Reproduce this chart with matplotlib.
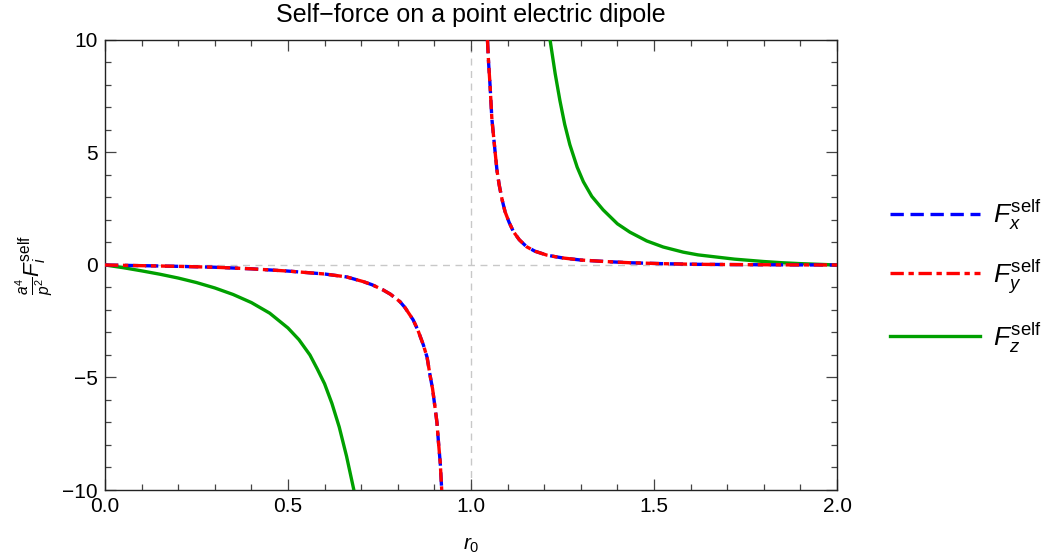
import matplotlib

matplotlib.use("Agg")

import matplotlib.pyplot as plt
from matplotlib.ticker import FormatStrFormatter, MultipleLocator

# sampled self-force components (r0, scaled force), two branches each side of r0 = 1
fx_inner_r = [0.0, 0.1, 0.2, 0.3, 0.4, 0.5, 0.6, 0.66, 0.706, 0.73, 0.76, 0.78,
              0.806, 0.82, 0.842, 0.855, 0.87, 0.88, 0.888, 0.895, 0.902, 0.907,
              0.911, 0.916, 0.92]
fx_inner_f = [0.0, -0.03, -0.06, -0.10, -0.17, -0.27, -0.40, -0.53, -0.74, -0.88,
              -1.11, -1.30, -1.63, -1.90, -2.44, -2.90, -3.56, -4.10, -4.89, -5.50,
              -6.37, -7.00, -7.85, -8.80, -10.0]
fx_outer_r = [1.045, 1.048, 1.052, 1.057, 1.066, 1.071, 1.077, 1.085, 1.093, 1.104,
              1.116, 1.132, 1.152, 1.175, 1.207, 1.23, 1.252, 1.30, 1.371, 1.434,
              1.52, 1.617, 1.75, 1.88, 2.0]
fx_outer_f = [10.0, 9.0, 8.0, 6.5, 5.0, 4.2, 3.56, 2.9, 2.37, 1.9,
              1.48, 1.12, 0.81, 0.61, 0.44, 0.37, 0.31, 0.22, 0.15, 0.10,
              0.06, 0.03, 0.015, 0.005, 0.0]

# F_y coincides with F_x
fy_inner_r, fy_inner_f = fx_inner_r, fx_inner_f
fy_outer_r, fy_outer_f = fx_outer_r, fx_outer_f

fz_inner_r = [0.0, 0.05, 0.10, 0.15, 0.20, 0.25, 0.30, 0.35, 0.40, 0.45,
              0.50, 0.53, 0.56, 0.58, 0.60, 0.62, 0.64, 0.66, 0.68]
fz_inner_f = [0.0, -0.12, -0.26, -0.41, -0.58, -0.78, -1.02, -1.31, -1.67, -2.14,
              -2.80, -3.32, -4.00, -4.62, -5.28, -6.15, -7.20, -8.50, -10.0]
fz_outer_r = [1.216, 1.23, 1.243, 1.256, 1.27, 1.29, 1.307, 1.33, 1.361, 1.40,
              1.434, 1.48, 1.525, 1.58, 1.62, 1.662, 1.72, 1.799, 1.85, 1.9,
              1.95, 2.0]
fz_outer_f = [10.0, 8.5, 7.3, 6.25, 5.35, 4.35, 3.70, 3.05, 2.45, 1.83,
              1.46, 1.07, 0.80, 0.57, 0.45, 0.37, 0.26, 0.155, 0.10, 0.06,
              0.03, 0.0]

plt.rcParams["font.family"] = ["Liberation Sans", "DejaVu Sans"]
plt.rcParams["mathtext.fontset"] = "custom"
plt.rcParams["mathtext.rm"] = "Liberation Sans"
plt.rcParams["mathtext.it"] = "Liberation Sans:italic"
plt.rcParams["mathtext.bf"] = "Liberation Sans:bold"

fig = plt.figure(figsize=(10.57, 5.6), dpi=100)
ax = fig.add_axes([0.0993, 0.125, 0.6926, 0.8036])

grid_kw = dict(color="#c8c8c8", lw=1.0, dashes=(5, 4), zorder=1)
ax.axhline(0.0, **grid_kw)
ax.axvline(1.0, **grid_kw)

lw = 2.4
blue = "#0000ff"
red = "#ff0000"
green = "#00a000"
dash_x = (4, 2)
dash_y = (4, 1.4, 1.6, 1.4)

ax.plot(fz_inner_r, fz_inner_f, color=green, lw=lw, zorder=3)
ax.plot(fz_outer_r, fz_outer_f, color=green, lw=lw, zorder=3,
        label=r"$F_z^{\mathrm{self}}$")

ax.plot(fx_inner_r, fx_inner_f, color=blue, lw=lw, dashes=dash_x, zorder=4)
ax.plot(fx_outer_r, fx_outer_f, color=blue, lw=lw, dashes=dash_x, zorder=4,
        label=r"$F_x^{\mathrm{self}}$")

ax.plot(fy_inner_r, fy_inner_f, color=red, lw=lw, dashes=dash_y, zorder=5)
ax.plot(fy_outer_r, fy_outer_f, color=red, lw=lw, dashes=dash_y, zorder=5,
        label=r"$F_y^{\mathrm{self}}$")

ax.set_xlim(0, 2)
ax.set_ylim(-10, 10)
ax.xaxis.set_major_locator(MultipleLocator(0.5))
ax.xaxis.set_minor_locator(MultipleLocator(0.1))
ax.yaxis.set_major_locator(MultipleLocator(5))
ax.yaxis.set_minor_locator(MultipleLocator(1))
ax.xaxis.set_major_formatter(FormatStrFormatter("%.1f"))
ax.tick_params(which="both", direction="in", top=True, right=True,
               color="#444444", width=0.9, labelsize=15)
ax.tick_params(which="major", length=8, pad=5)
ax.tick_params(which="minor", length=4.5)
for s in ax.spines.values():
    s.set_color("#222222")
    s.set_linewidth(1.0)

ax.set_title("Self\u2212force on a point electric dipole", fontsize=18, pad=13)
ax.set_xlabel(r"$r_0$", fontsize=15, labelpad=14)
ax.set_ylabel(r"$\frac{a^4}{p^2}F_i^{\mathrm{self}}$", fontsize=16, labelpad=5)

handles, labels = ax.get_legend_handles_labels()
order = [1, 2, 0]
ax.legend([handles[i] for i in order], [labels[i] for i in order],
          loc="center left", bbox_to_anchor=(1.04, 0.475), frameon=False,
          fontsize=19, handlelength=3.4, handletextpad=0.5, labelspacing=0.95)

fig.savefig("out.png", dpi=100)
